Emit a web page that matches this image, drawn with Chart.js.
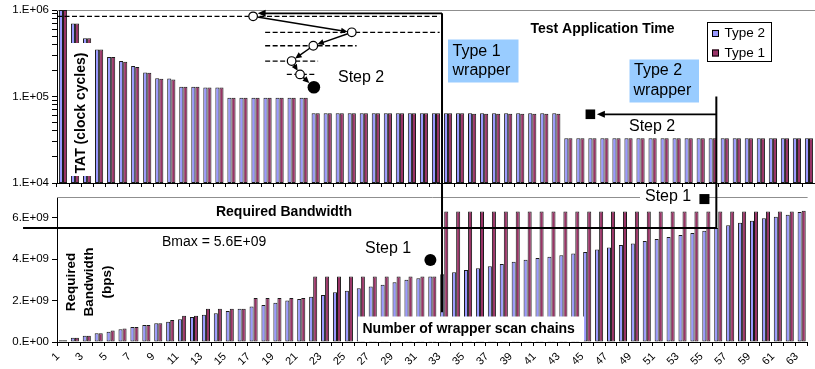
<!DOCTYPE html>
<html><head><meta charset="utf-8">
<script src="https://cdn.jsdelivr.net/npm/chart.js@4.4.1/dist/chart.umd.min.js"></script>
<style>
html,body{margin:0;padding:0;background:#fff;overflow:hidden;}
#wrap{position:relative;width:815px;height:369px;}
canvas{position:absolute;left:0;top:0;}
</style></head><body>
<div id="wrap"><canvas id="topc" width="815" height="369"></canvas><canvas id="botc" width="815" height="369"></canvas></div>
<script>
// ---------------- data ----------------
const categories = ['1','2','3','4','5','6','7','8','9','10','11','12','13','14','15','16','17','18','19','20','21','22','23','24','25','26','27','28','29','30','31','32','33','34','35','36','37','38','39','40','41','42','43','44','45','46','47','48','49','50','51','52','53','54','55','56','57','58','59','60','61','62','63'];
const seriesNames = ['Type 2', 'Type 1'];
// Test application time (clock cycles)
const tatType2 = [1.0e6,7.0e5,4.7e5,3.5e5,2.86e5,2.57e5,2.25e5,1.9e5,1.63e5,1.62e5,1.3e5,1.3e5,1.27e5,1.27e5,
  9.7e4,9.7e4,9.7e4,9.7e4,9.7e4,9.7e4,9.7e4,
  6.4e4,6.4e4,6.4e4,6.4e4,6.4e4,6.4e4,6.4e4,6.4e4,6.4e4,6.4e4,6.4e4,6.4e4,6.4e4,6.4e4,6.4e4,6.4e4,6.4e4,6.4e4,6.4e4,6.4e4,6.4e4,
  3.3e4,3.3e4,3.3e4,3.3e4,3.3e4,3.3e4,3.3e4,3.3e4,3.3e4,3.3e4,3.3e4,3.3e4,3.3e4,3.3e4,3.3e4,3.3e4,3.3e4,3.3e4,3.3e4,3.3e4,3.3e4];
const tatType1 = [1.0e6,7.0e5,4.7e5,3.5e5,2.86e5,2.53e5,2.2e5,1.88e5,1.6e5,1.57e5,1.3e5,1.3e5,1.27e5,1.27e5,
  9.7e4,9.7e4,9.7e4,9.7e4,9.7e4,9.7e4,9.7e4,
  6.4e4,6.4e4,6.4e4,6.4e4,6.4e4,6.4e4,6.4e4,6.4e4,6.4e4,6.4e4,6.4e4,6.4e4,6.4e4,6.3e4,6.3e4,6.3e4,6.3e4,6.3e4,6.3e4,6.3e4,6.3e4,
  3.3e4,3.3e4,3.3e4,3.3e4,3.3e4,3.3e4,3.3e4,3.3e4,3.3e4,3.3e4,3.3e4,3.3e4,3.3e4,3.3e4,3.3e4,3.3e4,3.3e4,3.3e4,3.3e4,3.3e4,3.3e4];
// Required bandwidth (bps)
const bwType2 = [0.08e9,0.2e9,0.3e9,0.42e9,0.5e9,0.61e9,0.72e9,0.82e9,0.9e9,0.98e9,1.1e9,1.21e9,1.31e9,1.39e9,1.5e9,1.6e9,1.71e9,1.79e9,1.9e9,2.0e9,2.08e9,
  2.19e9,2.27e9,2.4e9,2.48e9,2.6e9,2.68e9,2.76e9,2.89e9,3.0e9,3.08e9,3.16e9,3.27e9,
  3.37e9,3.47e9,3.56e9,3.66e9,3.77e9,3.87e9,3.97e9,4.05e9,4.12e9,4.19e9,4.27e9,4.35e9,4.47e9,4.56e9,4.68e9,4.76e9,4.87e9,4.97e9,5.07e9,5.16e9,5.26e9,5.37e9,5.5e9,5.64e9,5.76e9,5.85e9,5.97e9,6.05e9,6.14e9,6.27e9];
const bwType1 = [0.08e9,0.2e9,0.3e9,0.42e9,0.55e9,0.65e9,0.72e9,0.82e9,0.9e9,1.06e9,1.27e9,1.27e9,1.6e9,1.6e9,1.6e9,1.6e9,2.12e9,2.12e9,2.12e9,2.12e9,2.13e9,
  3.16e9,3.16e9,3.16e9,3.16e9,3.16e9,3.16e9,3.16e9,3.16e9,3.16e9,3.16e9,3.16e9,
  6.3e9,6.3e9,6.3e9,6.3e9,6.3e9,6.3e9,6.3e9,6.3e9,6.3e9,6.3e9,6.3e9,6.3e9,6.3e9,6.3e9,6.3e9,6.3e9,6.3e9,6.3e9,6.3e9,6.3e9,6.3e9,6.3e9,6.3e9,6.3e9,6.3e9,6.3e9,6.3e9,6.3e9,6.3e9,6.3e9,6.34e9];
const tatTicks = [1e4,2e4,3e4,4e4,5e4,6e4,7e4,8e4,9e4,1e5,2e5,3e5,4e5,5e5,6e5,7e5,8e5,9e5,1e6];
const bwTicks = [0,2e9,4e9,6e9];

// annotation anchors in data units (category index 0-based, value)
const t1PathIdx = [15.8, 24.0, 20.8, 19.0, 19.7, 20.85];
const t1PathTat = [8.45e5, 5.52e5, 3.86e5, 2.57e5, 1.80e5, 1.28e5];
const t1DashFrom = [-0.5, 16.8, 16.8, 16.8, 18.6];
const t1DashTo = [31.3, 31.3, 24.4, 21.2, 20.9];
const t1WrapperIdx = 31.5, t1WrapperTopTat = 9.16e5, t1WrapperBottomBw = 1.44e9;
const t1Step1 = [30.84, 3.96e9];
const t2WrapperIdx = 54.3, t2WrapperTopTat = 1.0e5;
const t2Step2 = [43.83, 6.23e4];
const t2Step1 = [53.84, 6.9e9];
const bmaxLine = 5.5e9, bmaxFromIdx = -3.35;

// ---------------- style ----------------
const FONT = "'Liberation Sans', Arial, Helvetica, sans-serif";
const BLUE = '#9999FF', RED = '#993366', EDGE = '#1a1a1a';

function fmtTat(v){ const l = Math.log10(v), e = Math.round(l); return Math.abs(l - e) < 1e-6 ? '1.E+' + String(e).padStart(2,'0') : ''; }
function fmtBw(v){ if (v === 0) return '0.E+00'; const e = Math.floor(Math.log10(v) + 1e-9); return Math.round(v / Math.pow(10, e)) + '.E+' + String(e).padStart(2,'0'); }

function frameLine(){
  return { id: 'frameLine', beforeDatasetsDraw(chart){
    const {ctx, chartArea: a} = chart; ctx.save(); ctx.strokeStyle = '#8f8f8f'; ctx.lineWidth = 1;
    ctx.beginPath(); const y = Math.round(a.top) + 0.5; ctx.moveTo(a.left, y); ctx.lineTo(a.right, y); ctx.stroke(); ctx.restore(); } };
}
function ds(label, data, color){
  return { label, data, backgroundColor: color, borderColor: EDGE, borderWidth: 1, borderSkipped: false, categoryPercentage: 0.68, barPercentage: 1.0 };
}

const topChart = new Chart(document.getElementById('topc'), {
  type: 'bar',
  data: { labels: categories, datasets: [ ds(seriesNames[0], tatType2, BLUE), ds(seriesNames[1], tatType1, RED) ] },
  options: {
    responsive: false, animation: false, events: [],
    layout: { padding: { left: 0, right: 0, top: 10, bottom: 186 } },
    plugins: { legend: { display: false }, tooltip: { enabled: false } },
    scales: {
      x: { grid: { offset: true, drawOnChartArea: false, drawTicks: true, tickLength: 4, color: '#000' },
           border: { color: '#000', width: 1 }, ticks: { display: false },
           afterFit: s => { s.height = 0; } },
      y: { type: 'logarithmic', min: 1e4, max: 1e6,
           afterBuildTicks: s => { s.ticks = tatTicks.map(v => ({ value: v })); },
           ticks: { autoSkip: false, callback: v => fmtTat(v), color: '#000', padding: 3, font: { family: FONT, size: 11.5 } },
           grid: { drawOnChartArea: false, tickLength: 5, color: '#000' },
           border: { color: '#000', width: 1 },
           afterFit: s => { s.width = 57; } }
    }
  },
  plugins: [frameLine()]
});

function arrow(ctx, x1, y1, x2, y2, hl, hw){
  const a = Math.atan2(y2 - y1, x2 - x1), c = Math.cos(a), s = Math.sin(a);
  ctx.beginPath(); ctx.moveTo(x1, y1); ctx.lineTo(x2 - hl * 0.7 * c, y2 - hl * 0.7 * s); ctx.stroke();
  ctx.beginPath(); ctx.moveTo(x2, y2);
  ctx.lineTo(x2 - hl * c + hw * s, y2 - hl * s - hw * c);
  ctx.lineTo(x2 - hl * c - hw * s, y2 - hl * s + hw * c);
  ctx.closePath(); ctx.fill();
}
function textAt(ctx, str, x, y, font, align){ ctx.font = font; ctx.textAlign = align || 'left'; ctx.textBaseline = 'middle'; ctx.fillStyle = '#000'; ctx.fillText(str, x, y); }

const annotations = {
  id: 'annotations',
  afterDraw(chart){
    const ctx = chart.ctx, T = topChart;
    const tX = i => T.scales.x.getPixelForValue(i), tY = v => T.scales.y.getPixelForValue(v);
    const bX = i => chart.scales.x.getPixelForValue(i), bY = v => chart.scales.y.getPixelForValue(v);
    const REG = '16px ' + FONT, BOLD = 'bold 14px ' + FONT;
    ctx.save();

    // axis-title white boxes over bars
    ctx.fillStyle = '#fff';
    ctx.fillRect(69, 43, 24, 133);
    ctx.fillRect(358, 316.5, 226, 25);
    ctx.fillStyle = '#000';
    ctx.save(); ctx.translate(81, 113); ctx.rotate(-Math.PI / 2); textAt(ctx, 'TAT (clock cycles)', 0, 0, BOLD, 'center'); ctx.restore();
    ['Required', 'Bandwidth', '(bps)'].forEach((s, k) => { ctx.save(); ctx.translate(71 + 18 * k, 282); ctx.rotate(-Math.PI / 2); textAt(ctx, s, 0, 0, 'bold 13.5px ' + FONT, 'center'); ctx.restore(); });
    textAt(ctx, 'Number of wrapper scan chains', 362.5, 329, BOLD, 'left');

    // titles
    textAt(ctx, 'Test Application Time', 602.5, 29.5, BOLD, 'center');
    textAt(ctx, 'Required Bandwidth', 284, 212.5, BOLD, 'center');

    // legend
    ctx.fillStyle = '#fff'; ctx.fillRect(707, 22, 65, 40);
    ctx.strokeStyle = '#000'; ctx.lineWidth = 1; ctx.strokeRect(707.5, 22.5, 64, 39);
    T.data.datasets.forEach((d, k) => {
      const y = 33.5 + 19.5 * k;
      ctx.fillStyle = d.backgroundColor; ctx.fillRect(712, y - 3.5, 7, 7);
      ctx.strokeStyle = '#000'; ctx.strokeRect(712.5, y - 3, 6, 6);
      textAt(ctx, d.label, 724.5, y, '13.5px ' + FONT, 'left');
    });

    // Type 1 dashed levels
    ctx.strokeStyle = '#000'; ctx.fillStyle = '#000';
    ctx.lineWidth = 1.3; ctx.setLineDash([5, 2.5]);
    t1DashFrom.forEach((f, k) => { const y = tY(t1PathTat[k]); ctx.beginPath(); ctx.moveTo(tX(f), y); ctx.lineTo(tX(t1DashTo[k]), y); ctx.stroke(); });
    ctx.setLineDash([]);

    // Type 1 wrapper frame
    const wx = tX(t1WrapperIdx), wyTop = tY(t1WrapperTopTat);
    ctx.lineWidth = 2;
    ctx.beginPath(); ctx.moveTo(wx, wyTop); ctx.lineTo(wx, bY(t1WrapperBottomBw)); ctx.stroke();
    const c0x = tX(t1PathIdx[0]);
    ctx.lineWidth = 1.8; arrow(ctx, wx, wyTop, c0x + 4.5, wyTop, 8, 3.5);

    // path arrows
    ctx.lineWidth = 1.5;
    for (let k = 0; k < t1PathIdx.length - 1; k++) {
      const x1 = tX(t1PathIdx[k]), y1 = tY(t1PathTat[k]), x2 = tX(t1PathIdx[k + 1]), y2 = tY(t1PathTat[k + 1]);
      const r1 = 4.3, r2 = (k + 1 === t1PathIdx.length - 1) ? 6.3 : 4.3;
      const L = Math.hypot(x2 - x1, y2 - y1), ux = (x2 - x1) / L, uy = (y2 - y1) / L;
      arrow(ctx, x1 + ux * r1, y1 + uy * r1, x2 - ux * r2, y2 - uy * r2, 6.5, 3);
    }
    t1PathIdx.forEach((ix, k) => {
      const x = tX(ix), y = tY(t1PathTat[k]);
      ctx.beginPath();
      if (k === t1PathIdx.length - 1) { ctx.arc(x, y, 6.3, 0, 2 * Math.PI); ctx.fillStyle = '#000'; ctx.fill(); }
      else { ctx.arc(x, y, 4.3, 0, 2 * Math.PI); ctx.fillStyle = '#fff'; ctx.fill(); ctx.lineWidth = 1.2; ctx.stroke(); }
    });
    ctx.fillStyle = '#000';
    textAt(ctx, 'Step 2', 338, 78, REG, 'left');

    // Type 1 step 1 marker
    ctx.beginPath(); ctx.arc(bX(t1Step1[0]), bY(t1Step1[1]), 6, 0, 2 * Math.PI); ctx.fill();
    textAt(ctx, 'Step 1', 365, 248.5, REG, 'left');

    // Bmax line and Type 2 wrapper
    const vx = tX(t2WrapperIdx), by = bY(bmaxLine);
    ctx.lineWidth = 2;
    ctx.beginPath(); ctx.moveTo(bX(bmaxFromIdx), by); ctx.lineTo(vx, by); ctx.lineTo(vx, tY(t2WrapperTopTat)); ctx.stroke();
    textAt(ctx, 'Bmax = 5.6E+09', 162, 242.5, '14px ' + FONT, 'left');

    const sy = tY(t2Step2[1]), sx = tX(t2Step2[0]);
    ctx.lineWidth = 1.8; arrow(ctx, vx, sy, sx + 6.5, sy, 8, 3.5);
    ctx.fillRect(sx - 4.8, sy - 4.8, 9.6, 9.6);
    textAt(ctx, 'Step 2', 629, 127, REG, 'left');

    const qx = bX(t2Step1[0]), qy = bY(t2Step1[1]);
    ctx.fillStyle = '#fff'; ctx.fillRect(640, 190, 61, 14);
    ctx.fillStyle = '#000'; ctx.fillRect(qx - 5, qy - 5, 10, 10);
    textAt(ctx, 'Step 1', 645, 197, REG, 'left');

    // wrapper labels
    ctx.fillStyle = '#99CCFF';
    ctx.fillRect(448, 39.5, 70.5, 43);
    ctx.fillRect(629.5, 59.5, 69.5, 43);
    textAt(ctx, 'Type 1', 452.5, 51.5, REG, 'left');
    textAt(ctx, 'wrapper', 452.5, 71, REG, 'left');
    textAt(ctx, 'Type 2', 634, 71, REG, 'left');
    textAt(ctx, 'wrapper', 633.5, 90.5, REG, 'left');

    ctx.restore();
  }
};

const botChart = new Chart(document.getElementById('botc'), {
  type: 'bar',
  data: { labels: categories, datasets: [ ds(seriesNames[0], bwType2, BLUE), ds(seriesNames[1], bwType1, RED) ] },
  options: {
    responsive: false, animation: false, events: [],
    layout: { padding: { left: 0, right: 0, top: 197, bottom: 0 } },
    plugins: { legend: { display: false }, tooltip: { enabled: false } },
    scales: {
      x: { grid: { offset: true, drawOnChartArea: false, drawTicks: true, tickLength: 4, color: '#000' },
           border: { color: '#000', width: 1 },
           ticks: { autoSkip: false, maxRotation: 45, minRotation: 45, labelOffset: -5, padding: 4, color: '#000',
                    font: { family: FONT, size: 11 }, callback: (v, i) => (i % 2 === 0 ? categories[i] : '') },
           afterFit: s => { s.height = 27; } },
      y: { min: 0, max: 7e9,
           afterBuildTicks: s => { s.ticks = bwTicks.map(v => ({ value: v })); },
           ticks: { autoSkip: false, callback: v => fmtBw(v), color: '#000', padding: 3, font: { family: FONT, size: 11.5 } },
           grid: { drawOnChartArea: false, tickLength: 5, color: '#000' },
           border: { color: '#000', width: 1 },
           afterFit: s => { s.width = 57; } }
    }
  },
  plugins: [frameLine(), annotations]
});
</script>
</body></html>
